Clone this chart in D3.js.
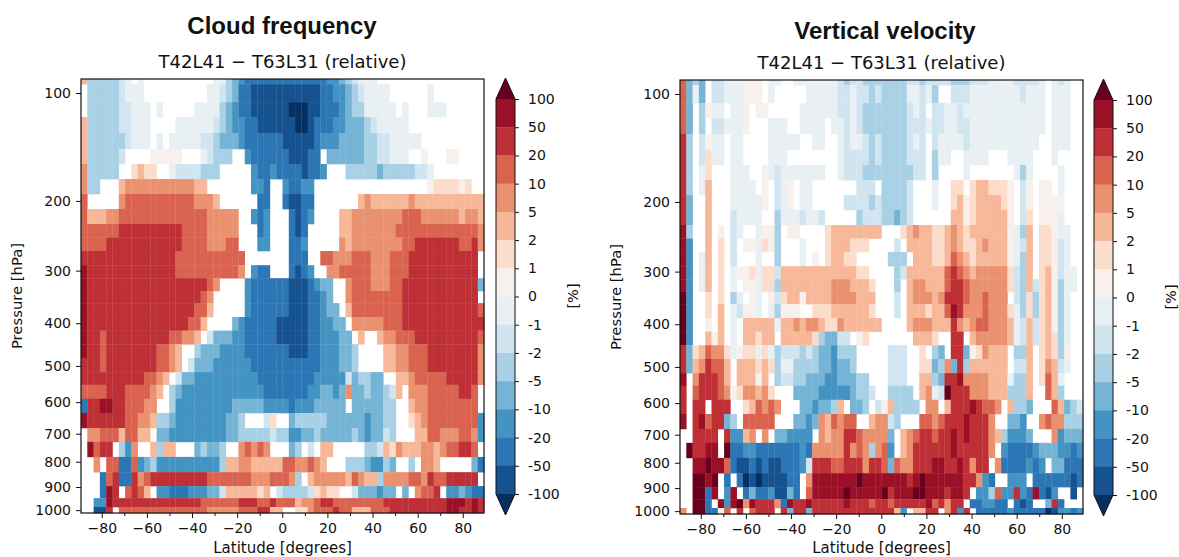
<!DOCTYPE html>
<html>
<head>
<meta charset="utf-8">
<script src="https://cdn.jsdelivr.net/npm/d3@7"></script>
<style>
  body { margin: 0; background: white; }
  text { font-family: "DejaVu Sans", sans-serif; fill: #111; }
</style>
</head>
<body>
<svg></svg>
<script>
// Axis ticks and colourbar labels
var latTicks = [-80, -60, -40, -20, 0, 20, 40, 60, 80]
var latMinorTicks = [-70, -50, -30, -10, 10, 30, 50, 70]
var pressureTicks = [100, 200, 300, 400, 500, 600, 700, 800, 900, 1000]
var barLabels = [100, 50, 20, 10, 5, 2, 1, 0, -1, -2, -5, -10, -20, -50, -100]

// Model level edges in hPa (32 rows)
var levelEdges = [90.8, 94.1, 106.4, 117.6, 130.6, 144.8, 159.3, 175, 191.8, 210, 229.5,
    248.4, 268.5, 291, 313, 336, 359, 387, 416, 447, 480, 516, 550, 590, 633, 681,
    728, 782, 840, 896, 947, 986, 1013]

// Colour classes: H >100, G 50..100, F 20..50, E 10..20, D 5..10, C 2..5, B 1..2, A 0..1,
// a -1..0, b -2..-1, c -5..-2, d -10..-5, e -20..-10, f -50..-20, g -100..-50, h <-100
var bandCodes = ["H", "G", "F", "E", "D", "C", "B", "A", "a", "b", "c", "d", "e", "f", "g", "h"]
var bandColors = ["#67001f", "#9a1127", "#bf2f36", "#da6350", "#ea916f", "#f7b799", "#fcdccb", "#f7f0ec",
    "#e9f0f4", "#d1e5f0", "#a8d1e6", "#76b4d5", "#4393c3", "#2c76b6", "#165190", "#053061"]

// Each row is run-length coded, south to north, "." means no colour
var cloudRows = [
    "C1 c5 b1 a1 .1 a1 .11 a2 c1 d1 e1 f13 e2 d1 c1 b1 a3 .17",
    ".1 c5 b1 a3 .10 a2 b1 c1 d1 f2 g11 f2 e2 d1 c1 b1 a4 .6 a1 .8",
    ".1 c5 b2 a3 .1 a1 .5 a4 c1 d1 e1 f2 g6 h3 g2 f3 e1 d1 c2 a5 .1 a1 .3 a3 .6",
    "C1 c5 b2 a3 .4 a6 b1 c1 d1 e2 f2 g6 h2 g1 f3 e2 d3 c1 b1 a5 .12",
    "C1 c6 b1 a3 .1 a1 .1 a5 b2 c1 d3 e1 f6 g5 f1 e3 d4 c2 b2 a5 .10",
    "C1 c5 b1 .4 A5 .3 a1 b1 c3 .2 e1 f6 g3 f2 .1 d6 c2 b2 a3 .2 A1 .3 A2 .4",
    "D1 c5 .2 B1 C1 B2 .2 a1 b4 c3 .5 e1 f2 e1 f4 g1 f2 e1 .3 c5 d1 c5 b2 a1 .9",
    "D1 c2 .3 C1 D11 C2 .7 e2 f1 .2 e1 f2 e2 .18 A1 B4 A1 B1 .2",
    "E1 .5 D1 E11 D3 C1 .6 f2 .2 f1 g2 f2 .7 C1 D1 C6 D1 C11",
    "E1 C3 D2 E14 D5 .2 e1 f1 e1 .3 f1 g1 f1 e1 .4 C2 D8 E3 D6 C1 D2 C1",
    "E6 F10 E4 D5 .3 f1 e1 .3 f1 g1 f1 .5 C2 D7 E13 D1",
    "E4 F12 E4 D3 E2 .3 e2 .3 f2 e1 .5 D1 C1 D8 E2 F7 E2 F1 D1",
    "F15 E11 .7 f3 .2 E2 D3 E3 D3 E3 F11 .1",
    "G1 F14 E10 D1 .1 e1 f2 .3 f1 g1 f1 e1 .2 D2 E5 D3 E3 F11 .1",
    "G1 F19 E1 D1 .4 e1 f6 g3 f1 e1 d2 .2 D1 E3 D3 E2 F12 d1",
    "G1 F18 E1 D1 .5 e1 f6 g3 f2 e1 d1 .2 D1 E8 F12 .1",
    "G1 F17 E2 C1 .5 e1 f6 g3 f2 e1 d2 .1 C1 E8 F12 E1",
    "G1 F16 E2 C1 .4 d1 e1 f5 g5 f2 e2 d2 .1 D5 E3 F13",
    "G1 F2 E1 F10 E2 D2 C1 .1 b1 d3 e2 f5 g5 f2 e3 d2 .1 C1 .2 C1 D2 E3 F10 E1",
    "G1 F2 E1 F8 E2 D1 C1 .2 c1 d3 e4 f7 g3 f2 e3 d2 c1 .4 C2 D2 E3 F8 D1",
    "F3 E1 F8 E2 D1 C1 .1 b1 d3 e6 f11 e3 d2 c1 .4 C2 D2 E3 F8 D1",
    "F10 E2 D1 C1 .1 b1 d2 e10 f9 e5 b1 d1 c2 d2 .2 C2 D1 E5 F5 D1",
    "E4 F3 E4 D1 C1 .1 c1 d1 e13 f7 e2 d2 e1 d1 D1 d2 c1 d2 c1 b1 C1 .1 D3 E5 F2 E1 .1",
    "f1 F2 G2 F2 E3 D2 .2 c1 e9 d5 e4 f1 e3 d5 .1 d5 c2 .2 C1 D2 E8 .1",
    "G1 F6 E2 D2 C1 c2 d1 e8 d2 c1 .3 b1 B1 .2 d1 c5 d6 e1 d2 c2 .2 B1 C1 D1 E8 e1",
    ".1 D2 E3 C1 E2 C2 .1 d2 e9 d2 c5 b1 c2 e2 d2 c1 d5 c1 d1 e1 d2 b1 c1 .3 C2 E2 D3 E2 D1 e1",
    ".1 G1 E1 F2 .1 c1 e1 D1 .2 C1 c1 C2 .3 d1 c1 d2 c1 .2 D1 E1 D1 E1 D1 .3 d1 c1 .1 b1 .1 C2 .5 c2 b1 C1 B1 D1 C3 D2 C1 D1 E2 F2 E1 .1",
    ".2 D1 .1 E2 f2 E1 e1 d1 c1 e10 c1 C2 D2 C5 E2 D2 E1 D1 C1 .3 c3 d1 e2 c1 d1 .2 c1 .1 D2 C1 .5 d1 f1",
    ".3 f1 E1 F1 f2 F1 D1 E1 F9 E7 D3 E3 D1 c1 .1 C1 D5 C1 E1 D1 C2 c1 D4 E2 D1 F1 E2 F5 .1",
    ".3 f1 G1 F1 .1 E1 F1 E1 C1 .1 e2 f3 e3 d2 b1 C5 B1 C1 .1 b1 c4 b1 B1 C1 B2 .2 b1 d3 e1 d2 .1 d1 .1 D1 E2 F1 .1 e2 d1 e1 f2",
    ".2 e2 G1 F14 E6 F3 E2 F1 E3 C1 D2 E1 F2 E8 F10 G3 F1 G1 F1",
    ".2 g2 F1 .1 E14 D5 E3 F2 C2 .2 B2 D1 E3 F1 E2 C3 E3 F9 G2 F2 G1 F1"
]

var velocityRows = [
    "E1 d1 c1 d1 .1 b2 a3 A3 .1 a2 .2 a7 b1 c1 b2 c7 b2 c1 b4 c3 b3 a4 b4 a1 .1 a1 b1 a1 .2",
    "E1 d1 a1 d1 .1 b2 a3 A3 .1 a1 .5 a5 b2 a1 b2 c1 b1 c4 a2 b1 a1 c1 .2 b3 a8 b1 a3 .1 a3 .2",
    "E1 d1 .1 c1 A1 a2 .1 a2 A1 .1 A2 .5 a6 b2 a1 b1 c7 b1 a1 b1 .1 b2 a2 b1 a13 .1 a3 .2",
    "E1 d1 .1 c1 .1 b2 a3 A1 .3 a3 .2 a4 .1 a2 b1 a1 b1 c7 b3 a1 b2 a2 b2 a12 .1 a3 .2",
    "F1 c1 .1 b1 A1 a2 .1 a2 .4 a5 .2 a2 .2 a1 b1 a2 b1 c1 b1 c4 b1 a1 b1 .1 b1 a4 b1 a11 .2 a3 .2",
    "F1 c1 .1 b1 B1 a2 .1 a2 .4 a3 .8 a1 b4 c1 b1 c4 b3 .1 c1 a2 .2 a4 .3 a4 .3 a1 .4",
    "F1 c1 .1 a1 B1 .3 a3 .2 A1 a1 b1 a7 .2 a1 b3 c8 b2 .1 c1 .4 a1 .7 a1 c1 a1 .4 a1 .3",
    "F1 c1 .1 a1 C1 .3 a4 .1 A1 .1 b1 a1 A1 .1 a2 .7 b3 .1 c4 b1 .3 a1 .2 B2 .1 B1 C2 B3 A1 .1 b1 A1 .1 A2 .1 a1 .3",
    "F1 d1 .2 C1 .3 a5 A1 .1 b1 a1 A1 .1 a2 .5 b4 c1 b1 c4 b1 .3 a1 .2 B1 C1 A1 B1 C4 B1 A1 .1 b1 A1 .1 A4 .3",
    "F1 d1 .2 C1 .3 b1 a4 .2 c1 a3 b1 a2 b1 .5 c1 b3 c2 d1 c1 b1 .6 C2 A1 B1 C5 A1 .1 b1 B1 .1 A3 a1 .3",
    "G1 c1 .2 C1 .1 A1 .1 b1 a1 .2 a1 A2 c1 .1 A2 .4 B1 C8 .3 B1 C1 D1 C2 B2 C1 D1 C1 B1 C6 A1 a1 c1 C1 .1 B2 A1 a2 .2",
    "G1 e1 .2 C1 .1 B1 .1 b1 .1 A2 a1 B1 A1 c1 .3 a1 .3 B1 C3 B3 .4 b1 .1 C4 B2 C1 D1 C1 B2 C1 D1 C3 A1 a1 b1 C1 .1 B2 A1 b1 a1 .2",
    "G1 e1 .1 a1 C1 .1 B1 .1 b1 .3 a1 .2 c1 .3 a1 .1 A1 .1 B1 C2 B2 .5 c3 .1 C3 B2 C1 E1 D1 C1 B1 C5 A1 a1 c1 C1 .1 B2 A1 b1 a1 .2",
    "G1 e1 .1 a1 C1 .1 B1 .1 a1 A2 B1 a1 B2 b1 C12 B2 .4 c1 b1 C6 E1 F1 E1 D1 C1 D5 B1 b1 c1 C1 .1 B1 C1 A1 b1 a2 .2",
    "G1 e1 .1 a1 C1 .1 B1 .1 a1 .1 A2 a1 B2 c1 C8 D3 C3 B1 .3 c1 .1 C1 D2 C3 E1 F2 E1 D6 B1 b1 c1 C1 b1 B1 C1 A1 c1 a2 .2",
    "H1 e1 .2 B1 .1 B1 .1 c1 a1 .1 A1 a1 .1 A1 b1 B1 C2 A1 C4 D4 C3 .3 b1 .1 C1 D3 C1 D1 F3 E1 D2 E1 D3 .1 b1 c1 B1 c1 B1 C1 A1 c1 a1 .2",
    "H1 e1 .2 B1 .1 C1 .1 a1 b1 A2 a1 .1 a1 c1 A3 .2 B3 C6 B1 .3 b1 .1 C3 B1 C2 E1 G1 F1 D3 E1 D3 B1 a1 c1 B1 c1 B1 C1 A1 c1 a1 .2",
    "H1 e1 .2 A1 .1 C1 .1 a1 .1 C5 a1 C2 D1 C1 D2 C1 B2 D1 C6 .4 C1 D3 C3 F1 D1 C1 D1 E2 D3 C1 a1 b1 C1 b1 B1 C1 A1 c1 a1 .2",
    "H1 e1 .2 C1 A1 C1 .1 a1 .1 C2 B1 C2 .1 C5 B1 c1 d2 b2 .1 A1 B1 .7 C3 B1 .2 F2 .1 C1 D5 C1 a1 b1 C1 b1 B1 C1 B1 c1 a1 .2",
    "F1 d1 B1 C1 E1 D2 B1 a1 A1 B2 a1 B1 a1 c1 b3 c1 b1 c1 d2 e1 c3 .5 b3 .2 B1 .1 c1 d1 .1 F2 d1 A1 B1 D1 C3 .1 c2 C1 .1 B1 C1 B1 c1 A1 .2",
    "F1 d1 C1 D1 F1 E2 C1 .1 C3 B1 C1 B1 c1 a2 c4 d2 e1 d2 c1 .5 b3 .2 B2 d1 c1 D1 d1 F1 c1 C6 .1 b2 C1 .1 B1 D1 C1 b1 a1 .2",
    "G1 .1 D1 F3 E1 C1 .1 C3 A1 C1 .1 c1 b2 c2 d3 e2 d3 c2 .3 b3 .2 C2 c1 d1 F2 G1 D4 C3 a1 c2 C1 .1 B1 E1 C1 a1 .3",
    "F1 .1 E1 F3 E1 D1 A1 B1 D2 C1 D1 B1 .3 d4 e5 d1 c2 b1 .2 c4 .1 C1 D1 a1 b1 H1 F3 D3 C3 c3 C1 .2 E1 C1 c1 .3",
    "F1 .1 F2 .1 F3 .2 B1 C1 E1 D1 E1 D1 .3 d2 e1 d2 c1 C1 .1 d2 c1 .1 b1 A1 C1 c4 .1 D2 .1 C1 F3 G1 F1 E2 D1 .1 C1 c2 d1 .3 E1 C1 d1 c1 b1 .1",
    "G1 .1 F1 G1 E1 F2 d1 c1 .1 E5 .3 d2 e1 d1 D1 C1 E1 D1 E2 .2 C1 D2 b1 c1 .3 E2 D1 E1 F3 G1 F3 D1 .2 d2 e1 .2 D1 E1 D2 c3",
    ".2 F4 .1 F1 e2 C1 D1 .1 D1 .1 d2 e4 .1 D1 C1 D2 F2 E1 D4 d1 .1 C1 D1 E1 F2 E1 F2 G1 F1 G1 F3 D1 C1 c1 e3 d1 .3 D1 e1 d3",
    ".1 H1 F2 G2 .1 H1 f2 e2 f7 e1 f1 D5 F1 D1 E1 D1 c1 D1 E1 e1 .1 C1 D1 F6 G1 F5 D1 .1 e1 f4 e1 d3 e2 f1 e1",
    ".2 G2 H1 G2 E1 f1 g2 f1 g1 f1 g2 f3 e1 b1 F3 E2 F3 D1 F2 E1 d1 E1 D2 F3 G2 F2 G1 F1 D1 F2 .1 D1 f4 e1 f1 e1 .1 d2 f3",
    ".2 H2 G1 H1 .1 f1 .1 f1 h1 g1 h1 g4 f2 .1 D1 G7 H1 G7 F1 G1 H1 G6 F2 D1 e1 f1 .2 e3 .1 f6 g1 f1",
    ".2 H2 f1 G1 .1 e1 G1 .1 f1 d1 f2 e1 g2 d1 f1 .1 E1 G5 H1 G5 H1 F1 G3 H2 G3 F1 G2 F1 .1 e2 c1 E1 e2 F1 e1 f1 G1 f1 g1 e1 .2 g1 .1",
    ".2 H2 f1 .1 G1 e1 G1 H1 D1 G1 F3 D1 f1 G1 F2 G1 F5 G1 F3 E1 F2 E1 F5 G1 E1 F1 D1 F2 .1 f2 e2 f2 .1 f1 g1 f1 .2 d1 F1 f1 .3",
    ".2 H2 f2 A1 E1 .1 F1 .1 E1 F3 .1 F1 d1 F2 d1 F13 C1 e1 .1 C2 F2 .1 D1 F1 e1 F1 .1 f5 e1 f5 h1 g1 e2 f1 e1 D1"
]

var width = 1179,
    height = 557,
    plotWidth = 403,
    plotHeight = 434

var svg = d3.select("svg")
    .attr("width", width)
    .attr("height", height)

var color = d3.scaleOrdinal(bandCodes, bandColors)

var x = d3.scaleLinear()
    .domain([-89.2, 89.4])
    .range([0, plotWidth])

var y = d3.scalePow()
    .exponent(0.18)
    .domain([levelEdges[0], levelEdges[levelEdges.length - 1]])
    .range([0, plotHeight])

// One column per latitude band of the model grid
var column = d3.scaleBand()
    .domain(d3.range(64))
    .range([0, plotWidth])

// "c5 b1" -> [{col: 0, code: "c"}, ...], cells without colour are left out
function decodeRow(row) {
    var cells = [], col = 0
    row.split(" ").forEach(function(run) {
        d3.range(+run.slice(1)).forEach(function() {
            if (run[0] != ".") cells.push({col: col, code: run[0]})
            col++
        })
    })
    return cells
}

function drawPanel(left, top, title, titleX, titleY, rows, barLeft, barTop) {
    var g = svg.append("g")
        .attr("transform", "translate(" + left + "," + top + ")")

    rows.forEach(function(row, r) {
        g.append("g").selectAll("rect")
            .data(decodeRow(row))
            .enter()
            .append("rect")
            .attr("x", function(d) { return column(d.col) })
            .attr("y", y(levelEdges[r]))
            .attr("width", column.bandwidth() + 0.3)
            .attr("height", y(levelEdges[r + 1]) - y(levelEdges[r]) + 0.3)
            .style("fill", function(d) { return color(d.code) })
    })

    // Frame
    g.append("rect")
        .attr("width", plotWidth)
        .attr("height", plotHeight)
        .style("fill", "none")
        .style("stroke", "#111")
        .style("stroke-width", 1.2)

    // Axes
    var xAxis = g.append("g")
        .attr("transform", "translate(0," + plotHeight + ")")
        .call(d3.axisBottom(x).tickValues(latTicks).tickSize(5).tickPadding(5).tickFormat(d3.format("d")))
    g.append("g")
        .attr("transform", "translate(0," + plotHeight + ")")
        .call(d3.axisBottom(x).tickValues(latMinorTicks).tickSize(3).tickFormat(""))
    var yAxis = g.append("g")
        .call(d3.axisLeft(y).tickValues(pressureTicks).tickSize(5).tickPadding(5).tickFormat(d3.format("d")))
    g.selectAll(".domain").remove()
    g.selectAll(".tick line").style("stroke", "#111")
    xAxis.selectAll("text").style("font-size", "14px")
    yAxis.selectAll("text").style("font-size", "14px")

    // Titles and labels
    svg.append("text")
        .attr("x", titleX)
        .attr("y", titleY)
        .attr("text-anchor", "middle")
        .style("font-family", "'Liberation Sans', sans-serif")
        .style("font-weight", "bold")
        .style("font-size", "24px")
        .text(title)
    svg.append("text")
        .attr("x", left + plotWidth / 2)
        .attr("y", top - 11)
        .attr("text-anchor", "middle")
        .style("font-size", "18px")
        .text("T42L41 \u2212 T63L31 (relative)")
    svg.append("text")
        .attr("x", left + plotWidth / 2)
        .attr("y", 553)
        .attr("text-anchor", "middle")
        .style("font-size", "15px")
        .text("Latitude [degrees]")
    svg.append("text")
        .attr("transform", "translate(" + (left - 59) + "," + (top + 217) + ") rotate(-90)")
        .attr("text-anchor", "middle")
        .style("font-size", "14.8px")
        .text("Pressure [hPa]")

    // Colourbar, one cell between each two labels plus the end triangles
    var barWidth = 19
    var barY = d3.scalePoint()
        .domain(barLabels)
        .range([0, 395])
    var bar = svg.append("g")
        .attr("transform", "translate(" + barLeft + "," + barTop + ")")

    bar.selectAll("rect")
        .data(barLabels.slice(0, -1))
        .enter()
        .append("rect")
        .attr("y", function(d) { return barY(d) })
        .attr("width", barWidth)
        .attr("height", barY.step() + 0.3)
        .style("fill", function(d, i) { return bandColors[i + 1] })

    bar.append("path")
        .attr("d", "M0,0L" + barWidth / 2 + ",-21L" + barWidth + ",0Z")
        .style("fill", bandColors[0])
    bar.append("path")
        .attr("d", "M0,395L" + barWidth / 2 + ",416L" + barWidth + ",395Z")
        .style("fill", bandColors[15])
    bar.append("path")
        .attr("d", "M0,0L" + barWidth / 2 + ",-21L" + barWidth + ",0V395L" + barWidth / 2 + ",416L0,395Z")
        .style("fill", "none")
        .style("stroke", "#111")
        .style("stroke-width", 1)

    var barAxis = bar.append("g")
        .attr("transform", "translate(" + barWidth + ",0)")
        .call(d3.axisRight(barY).tickSize(4).tickPadding(9))
    barAxis.select(".domain").remove()
    barAxis.selectAll(".tick line").style("stroke", "#111")
    barAxis.selectAll("text").style("font-size", "14px")

    svg.append("text")
        .attr("transform", "translate(" + (barLeft + 82) + "," + (barTop + 197) + ") rotate(-90)")
        .attr("text-anchor", "middle")
        .style("font-size", "14.5px")
        .text("[%]")
}

drawPanel(81, 79, "Cloud frequency", 282, 34, cloudRows, 496, 99)
drawPanel(680, 80, "Vertical velocity", 885, 39, velocityRows, 1094, 100)
</script>
</body>
</html>
